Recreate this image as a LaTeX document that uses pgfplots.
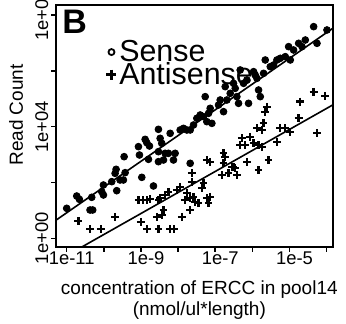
\documentclass[border=0pt]{standalone}
\usepackage{fontspec}
\setmainfont{Liberation Sans}
\usepackage{pgfplots}
\pgfplotsset{compat=1.18}
\newcommand{\legfont}{\fontsize{15.2}{15.2}\selectfont}
\begin{document}
\begin{tikzpicture}
\useasboundingbox (-28pt,-38.15pt) rectangle (145pt,123.35pt);
\begin{axis}[
  at={(0pt,0pt)}, anchor=south west,
  scale only axis, width=138.35pt, height=120.85pt,
  xmin=-11.288, xmax=-3.838, ymin=-0.30, ymax=8.358,
  axis line style={line width=0.8pt},
  tick style={black, line width=0.8pt},
  major tick length=2.5pt,
  tick align=outside,
  tick pos=left,
  xtick={-11,-10,-9,-8,-7,-6,-5,-4},
  xticklabels={1e-11,,1e-9,,1e-7,,1e-5,},
  ytick={0,2,4,6,8},
  yticklabels={1e+00,,1e+04,,1e+08},
  ticklabel style={font=\fontsize{9.2}{9.2}\selectfont, inner sep=0pt},
  xticklabel style={anchor=north, xshift=2.5pt},
  yticklabel style={xshift=-1.2pt, rotate=90, anchor=south},
  xlabel={concentration of ERCC in pool14\\(nmol/ul*length)},
  xlabel style={at={(axis description cs:0.518,0)}, anchor=north, yshift=-16.65pt, align=center, font=\fontsize{9.5}{10.5}\selectfont, inner sep=0pt},
  ylabel={Read Count},
  ylabel style={at={(axis description cs:-0.1446,0.545)}, anchor=center, font=\fontsize{9.5}{9.5}\selectfont, inner sep=0pt},
  legend style={draw=none, fill=none, at={(axis description cs:0.181,0.862)}, anchor=north west, inner sep=0pt, font=\legfont, row sep=-2.2pt, column sep=0.8pt, nodes={inner sep=0.6pt, font=\legfont}},
  legend cell align=left,
  legend image code/.code={\draw[#1] plot coordinates {(0pt,0pt)};},
]
\addplot[only marks, mark=*, mark size=1.7pt, black, forget plot] table {
x y
-11.000 1.075
-10.730 1.516
-10.658 1.397
-10.371 1.015
-10.300 1.015
-10.326 1.469
-10.057 1.672
-10.011 1.910
-10.011 1.552
-9.787 2.030
-9.697 2.328
-9.670 2.472
-9.653 1.707
-9.563 2.090
-9.473 2.090
-9.454 2.925
-9.427 2.352
-9.068 3.284
-9.041 2.985
-8.978 2.185
-8.888 3.546
-8.844 3.427
-8.772 3.307
-8.798 2.830
-8.664 1.875
-8.530 3.904
-8.530 3.104
-8.484 3.582
-8.440 3.403
-8.350 3.045
-8.530 2.746
-8.394 2.806
-8.214 3.761
-8.260 3.045
-8.080 3.045
-7.945 3.881
-7.855 3.940
-7.765 3.881
-7.675 3.881
-7.675 2.687
-7.586 4.060
-7.496 4.299
-7.406 4.418
-7.317 4.358
-7.271 5.075
-7.227 4.179
-7.181 4.478
-7.137 4.657
-7.091 4.119
-6.912 4.776
-6.867 4.955
-6.777 4.537
-6.732 5.433
-6.687 4.955
-6.597 5.194
-6.508 5.552
-6.463 5.373
-6.418 5.075
-6.373 4.836
-6.328 6.030
-6.238 5.552
-6.148 5.672
-6.104 4.836
-5.968 5.970
-5.924 5.851
-5.878 5.731
-5.834 5.313
-5.788 5.075
-5.699 5.910
-5.654 6.388
-5.519 6.149
-5.429 6.209
-5.340 6.388
-5.250 6.448
-5.115 6.507
-5.025 6.866
-4.980 6.388
-4.891 6.746
-4.755 6.985
-4.665 6.866
-4.575 7.104
-4.351 7.582
-4.261 6.985
-3.992 7.463
-8.125 2.806
};
\addplot[only marks, mark=+, mark size=1.95pt, line width=1.15pt, black, forget plot] table {
x y
-10.686 0.633
-10.371 0.322
-10.083 0.322
-9.697 0.776
-9.068 1.373
-8.951 1.373
-9.006 0.597
-8.844 0.322
-8.844 1.373
-8.754 1.397
-8.574 0.776
-8.530 1.373
-8.530 0.322
-8.484 1.433
-8.440 0.836
-8.394 1.015
-8.214 0.322
-8.107 0.322
-8.260 1.672
-8.035 1.731
-7.945 1.851
-7.900 0.776
-7.675 1.015
-7.765 1.612
-7.675 1.433
-7.586 1.493
-7.541 1.313
-7.631 2.328
-7.631 2.030
-7.317 1.970
-7.361 1.791
-7.227 1.433
-7.181 1.254
-7.137 1.493
-7.227 2.806
-7.137 2.746
-6.777 3.045
-6.732 2.925
-6.777 2.687
-6.642 2.328
-6.552 2.567
-6.463 2.507
-6.418 2.269
-6.328 3.343
-6.283 3.582
-6.193 3.343
-6.058 3.642
-5.968 3.403
-5.834 3.343
-5.744 3.284
-6.148 2.746
-5.834 2.448
-5.564 2.806
-5.878 3.940
-5.744 3.881
-5.699 4.119
-5.654 4.537
-5.609 4.716
-5.340 3.463
-5.250 3.940
-5.115 3.940
-4.980 3.821
-4.755 4.299
-4.711 4.896
-4.351 5.254
-4.037 5.110
-4.261 3.761
-6.823 2.269
-6.508 2.567
-7.810 1.373
-7.451 1.254
-8.350 1.552
};
\addplot[line width=0.8pt, black, forget plot] coordinates {(-11.288,0.65) (-3.838,7.52)};
\addplot[line width=0.8pt, black, forget plot] coordinates {(-10.58,-0.30) (-3.838,4.777)};
\addlegendimage{only marks, mark=o, mark size=1.5pt, line width=0.9pt, black}
\addlegendentry{Sense}
\addlegendimage{only marks, mark=+, mark size=2.5pt, line width=1.3pt, black}
\addlegendentry{Antisense}
\node[anchor=west, inner sep=0pt, font=\fontsize{17}{17}\selectfont\bfseries] at (rel axis cs:0.022,0.932) {B};
\end{axis}
\end{tikzpicture}
\end{document}
